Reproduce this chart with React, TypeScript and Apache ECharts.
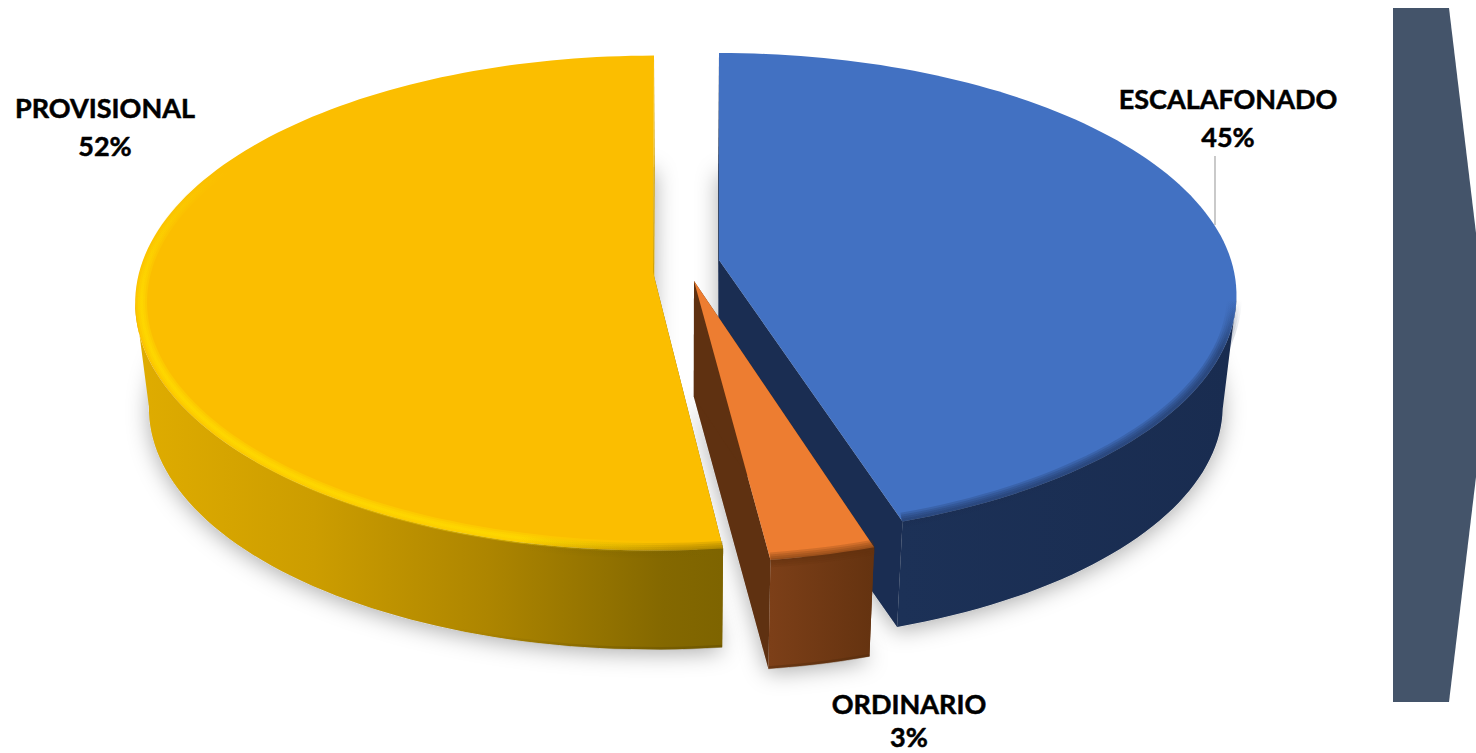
import React, { useEffect, useRef } from "react";
import * as echarts from "echarts";

const categories = ["ESCALAFONADO", "ORDINARIO", "PROVISIONAL"];
const percentages = [45, 3, 52];

const W = 1476, H = 753;
const F = 512, VX = 686, SHRINK = 0.025;

// cx, cy: rim centre; adx, ady: apex offset; h: depth; g, p: vertical radius and perspective;
// trimStart: small angular gap at the leading edge of the slice
const sliceLayout = [
  { cx: 719, cy: 260, adx: 0, ady: 0, h: 112, g: 237, p: 0.145, trimStart: 0 },
  { cx: 694, cy: 275, adx: 0, ady: 6, h: 116, g: 241, p: 0.162, trimStart: 0.7 },
  { cx: 654, cy: 263, adx: -1, ady: 9, h: 106, g: 241, p: 0.162, trimStart: 0.7 },
];
const labelLayout = [
  { x: 1228, y1: 98, y2: 136 },
  { x: 909, y1: 703, y2: 736.5 },
  { x: 105, y1: 107, y2: 145 },
];

const total = percentages.reduce((a, b) => a + b, 0);
const starts = percentages.map((_, i) =>
  percentages.slice(0, i).reduce((a, b) => a + b, 0) / total * 360
);

function proj(i: number, r: number, deg: number, z: number): number[] {
  const s = sliceLayout[i];
  const t = (deg * Math.PI) / 180;
  const u = r * Math.sin(t), v = r * Math.cos(t);
  const xt = s.cx + (r === 0 ? s.adx : 0) + (F * u) / (1 + s.p * v);
  const yt = s.cy + (r === 0 ? s.ady : 0) - (s.g * v) / (1 + s.p * v);
  const k = 1 - SHRINK * z;
  return [VX + (xt - VX) * k, s.cy + (yt - s.cy) * k + s.h * z];
}
function arc(i: number, r: number, a: number, b: number, z: number): number[][] {
  const n = Math.max(4, Math.ceil(Math.abs(b - a) / 1.5));
  const out: number[][] = [];
  for (let k = 0; k <= n; k++) out.push(proj(i, r, a + ((b - a) * k) / n, z));
  return out;
}
const hGrad = (x0: number, x1: number, stops: [number, string][]) =>
  new echarts.graphic.LinearGradient(x0, 0, x1, 0, stops.map(([offset, color]) => ({ offset, color })), true);
const vGrad = (y0: number, y1: number, stops: [number, string][]) =>
  new echarts.graphic.LinearGradient(0, y0, 0, y1, stops.map(([offset, color]) => ({ offset, color })), true);

const poly = (points: number[][], fill: any) => ({ type: "polygon", shape: { points }, style: { fill, stroke: null } });
const line = (points: number[][], stroke: any, lineWidth: number, opacity: number) => ({
  type: "polyline",
  shape: { points },
  style: { stroke, lineWidth, opacity, fill: null, lineCap: "butt", lineJoin: "round" },
});
const bevel = (points: number[][], stroke: any, widths: number[], opacity: number) =>
  widths.map((w) => line(points, stroke, w, opacity));

function renderShadow(params: any, api: any) {
  const i = params.dataIndex;
  const a = starts[i] + sliceLayout[i].trimStart, b = starts[i] + (api.value(0) / total) * 360;
  return {
    type: "polygon",
    shape: { points: [proj(i, 0, 0, 1), ...arc(i, 1, a, b, 1)] },
    style: { fill: "#d0d0d0", shadowBlur: 22, shadowColor: "rgba(0,0,0,0.32)", shadowOffsetY: 4 },
  };
}

function renderSlice(params: any, api: any) {
  const i = params.dataIndex;
  const value = api.value(0);
  const a = starts[i] + sliceLayout[i].trimStart, b = starts[i] + (value / total) * 360;
  const apexT = proj(i, 0, 0, 0), apexB = proj(i, 0, 0, 1);
  const top = [apexT, ...arc(i, 1, a, b, 0)];
  const children: any[] = [];

  const cut = (deg: number, fill: any) =>
    poly([apexT, proj(i, 1, deg, 0), proj(i, 1, deg, 1), apexB], fill);

  if (i === 0) {
    const wall = "#1A2D52";
    children.push(cut(a, wall), cut(b, wall));
    const wallStart = 99;
    children.push(poly([...arc(i, 1, wallStart, b, 0), ...arc(i, 1, wallStart, b, 1).reverse()], hGrad(900, 1230, [[0, "#1C3157"], [1, "#192C50"]])));
    children.push(poly(top, "#4271C2"));
    const fade = vGrad(300, 350, [[0, "rgba(26,45,82,0)"], [1, "rgba(26,45,82,1)"]]);
    children.push(...bevel(arc(i, 0.996, 95, b, 0), fade, [15, 11, 7, 3], 0.2));
  } else if (i === 1) {
    children.push(cut(b, "#5F3111"), cut(a, "#5F3111"));
    children.push(poly([...arc(i, 1, a, b, 0), ...arc(i, 1, a, b, 1).reverse()], hGrad(770, 872, [[0, "#7C3F18"], [1, "#653310"]])));
    children.push(line(arc(i, 1, a, b, 1).map((p) => [p[0], p[1] - 1]), "#4F2A0C", 3, 0.4));
    children.push(poly(top, "#ED7D31"));
    children.push(...bevel(arc(i, 1, a, b, 0), "#653310", [15, 11, 7, 3], 0.2));
  } else {
    children.push(cut(a, "#7E6400"), cut(360, "#D4A400"));
    const wallEnd = 261;
    children.push(
      poly(
        [...arc(i, 1, a, wallEnd, 0), ...arc(i, 1, a, wallEnd, 1).reverse()],
        hGrad(140, 722, [[0, "#DFAC00"], [0.3, "#CC9D00"], [0.6, "#AD8500"], [0.9, "#846800"], [1, "#7E6400"]])
      )
    );
    children.push(
      line(
        arc(i, 1, a, 215, 1).map((p) => [p[0], p[1] - 1]),
        hGrad(450, 722, [[0, "rgba(90,70,0,0)"], [1, "rgba(90,70,0,0.4)"]]),
        3,
        1
      )
    );
    children.push(poly(top, "#FBBE00"));

    const front = hGrad(140, 722, [
      [0, "rgba(255,222,0,1)"],
      [0.65, "rgba(255,222,0,1)"],
      [0.82, "rgba(255,222,0,0.4)"],
      [0.92, "rgba(255,222,0,0)"],
      [1, "rgba(255,222,0,0)"],
    ]);
    children.push(...bevel(arc(i, 0.988, a, 262, 0), front, [11, 7, 3], 0.36));
    const upper = vGrad(170, 300, [[0, "rgba(255,222,0,0)"], [1, "rgba(255,222,0,1)"]]);
    children.push(...bevel(arc(i, 0.988, 262, 305, 0), upper, [11, 7, 3], 0.36));
    const dark = hGrad(520, 722, [[0, "rgba(126,100,0,0)"], [1, "rgba(126,100,0,1)"]]);
    children.push(...bevel(arc(i, 1, a, 215, 0), dark, [15, 11, 7, 3], 0.2));
  }

  const lab = labelLayout[i];
  const text = (t: string, y: number) => ({
    type: "text",
    style: {
      text: t,
      x: lab.x,
      y,
      align: "center",
      verticalAlign: "middle",
      fill: "#000",
      font: "bold 27px Lato",
      stroke: "#000",
      lineWidth: 0.5,
    },
  });
  children.push(text(categories[i], lab.y1), text(`${value}%`, lab.y2));
  return { type: "group", children };
}

export default function App() {
  const ref = useRef<HTMLDivElement>(null);
  useEffect(() => {
    document.body.style.margin = "0";
    const chart = echarts.init(ref.current!, null, { renderer: "svg" });
    const data = percentages.map((v, i) => ({ name: categories[i], value: [v] }));
    chart.setOption({
      animation: false,
      backgroundColor: "#ffffff",
      graphic: [
        {
          type: "polygon",
          z: 0,
          shape: { points: [[1393, 8], [1449, 8], [1476, 233], [1476, 477], [1449, 702], [1393, 702]] },
          style: { fill: "#44546A" },
        },
        {
          type: "line",
          z: 10,
          shape: { x1: 1215, y1: 156, x2: 1215, y2: 225 },
          style: { stroke: "#A6A6A6", lineWidth: 1.2 },
        },
      ],
      series: [
        { type: "custom", coordinateSystem: "none", z: 1, silent: true, data, renderItem: renderShadow },
        { type: "custom", coordinateSystem: "none", z: 2, silent: true, data, renderItem: renderSlice },
      ],
    });
    return () => chart.dispose();
  }, []);
  return <div ref={ref} style={{ position: "fixed", left: 0, top: 0, width: W, height: H }} />;
}
